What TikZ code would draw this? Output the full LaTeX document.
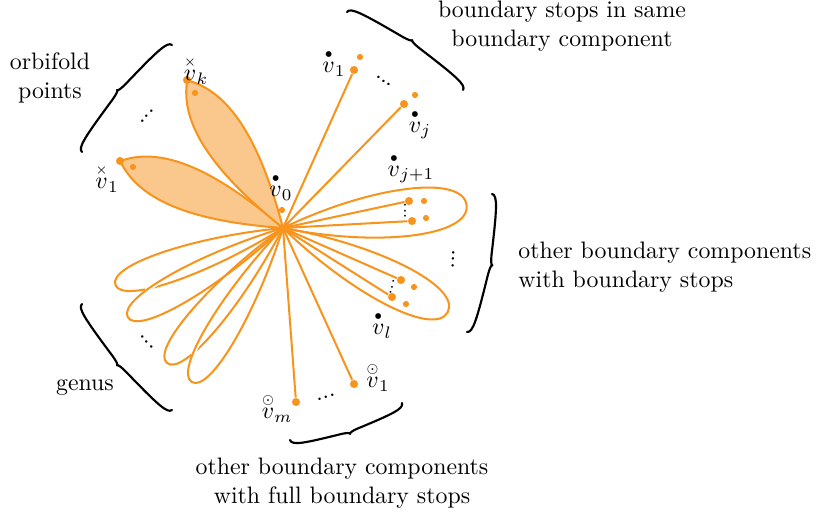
\documentclass[tikz,border=0pt]{standalone}
\usepackage{amsmath}
\definecolor{orn}{RGB}{247,148,29}
\definecolor{ornfill}{RGB}{250,200,140}
\newcommand\lobe[4]{\begin{scope}[shift={(C)},rotate=#1]
\path[#4] (0,0) .. controls ({0.5*#2},{1.3*#3}) and (#2,{1.3*#3}) .. (#2,0) .. controls (#2,{-1.3*#3}) and ({0.5*#2},{-1.3*#3}) .. cycle;
\end{scope}}
\newcommand\lens[3]{\begin{scope}[shift={(C)},rotate=#1]
\path[#3] (0,0) .. controls ({0.5*#2},{0.165*#2}) and ({0.82*#2},{0.165*#2}) .. (#2,0) .. controls ({0.82*#2},{-0.165*#2}) and ({0.5*#2},{-0.165*#2}) .. cycle;
\end{scope}}
% curly brace from coordinate #1, visual angle #2, length #3, bulge on the left
\newcommand\curly[3]{\begin{scope}[shift={(#1)},rotate=#2]
\draw[brcl] (0,0) .. controls (0,-6) and ({0.1*#3},-7.5) .. ({0.43*#3},-10.4) .. controls ({0.47*#3},-10.9) and ({0.5*#3},-11.7) .. ({0.5*#3},-13) .. controls ({0.5*#3},-11.7) and ({0.53*#3},-10.9) .. ({0.57*#3},-10.4) .. controls ({0.9*#3},-7.5) and (#3,-6) .. (#3,0);
\end{scope}}
\begin{document}
\begin{tikzpicture}[x=0.42pt,y=-0.42pt,
  edge/.style={draw=orn,line width=0.85pt,line join=round},
  gapw/.style={draw=white,line width=2.3pt},
  bigdot/.style={circle,fill=orn,inner sep=0pt,minimum size=3.4pt},
  smalldot/.style={circle,fill=orn,inner sep=0pt,minimum size=2.6pt},
  brcl/.style={line width=0.9pt,line cap=round,line join=round},
  lbl/.style={align=center,inner sep=0pt},
  dts/.style={inner sep=0pt}]
\useasboundingbox (0,0) rectangle (823,519);
\coordinate (C) at (283,228);
% genus loops
\lobe{198.7}{177}{16}{edge}
\begin{scope}\clip (159,284) circle (15);
\lobe{209.9}{179}{16}{gapw}
\end{scope}
\lobe{209.9}{179}{16}{edge}
\lobe{229.3}{178}{16}{edge}
\begin{scope}\clip (201,343) circle (15);
\lobe{239.4}{179}{16}{gapw}
\end{scope}
\lobe{239.4}{179}{16}{edge}
% boundary component loops
\lobe{7.1}{185}{24}{edge}
\lobe{-27}{185}{22}{edge}
% orbifold petals
\lens{157.65}{176}{edge,fill=ornfill}
\lens{122.97}{176}{edge,fill=ornfill}
% dots
\node[bigdot] (a1) at (354,70) {}; \node[smalldot] (a1s) at (360,57) {};
\node[bigdot] (aj) at (404,104) {}; \node[smalldot] (ajs) at (415,95) {};
\node[bigdot] (b1) at (409,201) {}; \node[smalldot] (b1s) at (424,201) {};
\node[bigdot] (b2) at (412,221) {}; \node[smalldot] (b2s) at (426,218) {};
\node[bigdot] (c1) at (401,280) {}; \node[smalldot] (c1s) at (414,287) {};
\node[bigdot] (c2) at (392,297) {}; \node[smalldot] (c2s) at (406,304) {};
\node[bigdot] (f1) at (354,384) {};
\node[bigdot] (fm) at (296,402) {};
\node[bigdot] (o1) at (120,161) {}; \node[smalldot] (o1s) at (133,167) {};
\node[bigdot] (ok) at (187,80) {}; \node[smalldot] (oks) at (195,93) {};
\node[smalldot] (z0) at (282,210) {};
% edges
\foreach \n in {a1,aj,b1,b2,c1,c2,f1,fm} \draw[edge] (C) -- (\n);
% labels
\node[lbl] (l0) at (281,187) {$\overset{\scriptscriptstyle\bullet}{v}_0$};
\node[lbl] (la1) at (334,63) {$\overset{\scriptscriptstyle\bullet}{v}_1$};
\node[lbl] (laj) at (420,124) {$\overset{\scriptscriptstyle\bullet}{v}_j$};
\node[lbl] (lb) at (411,168) {$\overset{\scriptscriptstyle\bullet}{v}_{j+1}$};
\node[lbl] (lc) at (382,325) {$\overset{\scriptscriptstyle\bullet}{v}_l$};
\node[lbl] (lok) at (196,70) {$\overset{\scriptscriptstyle\times}{v}_k$};
\node[lbl] (lo1) at (107,178) {$\overset{\scriptscriptstyle\times}{v}_1$};
\node[lbl] (lfm) at (277,408) {$\overset{\scriptscriptstyle\odot}{v}_m$};
\node[lbl] (lf1) at (378,377) {$\overset{\scriptscriptstyle\odot}{v}_1$};
% ellipsis dots
\node[dts,rotate=48] (d1) at (147,116) {{.}{.}{.}};
\node[dts,rotate=-45] (d2) at (147,342) {{.}{.}{.}};
\node[dts,rotate=-36] (d3) at (384,81) {{.}{.}{.}};
\node[dts,rotate=18] (d4) at (326,397) {{.}{.}{.}};
\node[dts,rotate=-92] (d5) at (453,259) {{.}{.}{.}};
\node[dts,rotate=-90] (d6) at (405,211) {\scriptsize{.}{.}{.}};
\node[dts,rotate=-105] (d7) at (392,287) {\scriptsize{.}{.}{.}};
% braces
\coordinate (ob) at (82,152); \curly{ob}{49.93}{139.8}
\coordinate (bs) at (347,12); \curly{bs}{-33.92}{139.8}
\coordinate (rb) at (492,194); \curly{rb}{-100.27}{140.2}
\coordinate (fb) at (402,403); \curly{fb}{-161.72}{117.95}
\coordinate (gb) at (172,410); \curly{gb}{130.33}{139.05}
% texts
\node[lbl] (t1) at (50,78) {orbifold\\points};
\node[lbl] (t2) at (85,388) {genus};
\node[lbl] (t3) at (562,26) {boundary stops in same\\boundary component};
\node[lbl,align=left,anchor=west] (t4) at (518,267) {other boundary components\\with boundary stops};
\node[lbl] (t5) at (342,483) {other boundary components\\with full boundary stops};
\end{tikzpicture}
\end{document}
